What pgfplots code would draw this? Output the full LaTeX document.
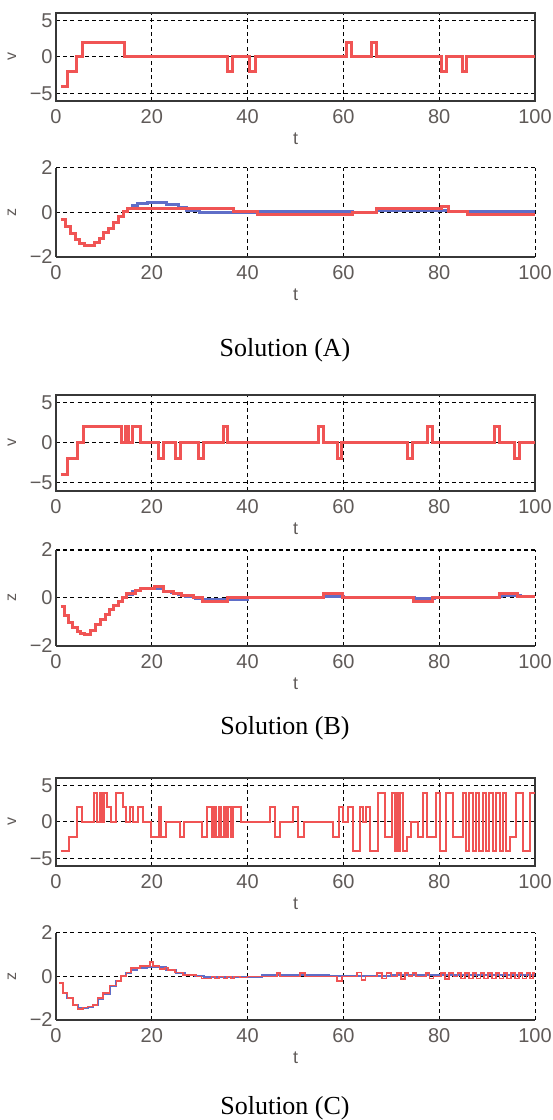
\documentclass[border=0pt]{standalone}
\usepackage{fontspec}
\setmainfont{Liberation Serif}
\newfontfamily\ticksans{Liberation Sans}
\usepackage{pgfplots}
\pgfplotsset{compat=1.18}

\definecolor{tickgray}{RGB}{95,90,88}
\definecolor{framegray}{RGB}{55,55,55}
\definecolor{solred}{RGB}{240,84,84}
\definecolor{solblue}{RGB}{95,110,200}

% v series (control)
\pgfplotstableread{
t v
1 -4
2.3 -2
4.3 0
5.6 2
14.4 0
35.9 -2
36.9 0
40.5 -2
41.6 0
60.6 2
61.6 0
65.9 2
66.9 0
80.5 -2
81.5 0
84.8 -2
85.8 0
100 0
}\vA
\pgfplotstableread{
t v
1 -4
2.3 -2
4.4 0
5.7 2
13.7 0
14.5 2
15.2 0
16.0 2
17.6 0
21.5 -2
22.5 0
25.0 -2
26.0 0
29.8 -2
30.8 0
34.9 2
35.9 0
54.8 2
55.8 0
58.7 -2
59.7 0
73.4 -2
74.4 0
77.6 2
78.6 0
91.6 2
92.6 0
95.7 -2
96.7 0
100 0
}\vB
\pgfplotstableread{
t v
1 -4
2.8 -2
4.3 2
5.4 0
7.9 4
8.6 0
9.1 4
9.7 0
10.1 4
10.6 2
11.4 0
12.5 4
13.9 2
14.6 0
15.4 2
16.1 0
17.1 2
18.2 0
19.9 -2
21.4 2
22.0 -2
23.0 0
25.8 -2
26.8 0
30.5 -2
31.5 2
32.5 -2
33.0 2
33.5 -2
34.0 2
34.5 -2
35.0 2
35.5 -2
36.0 2
36.5 -2
37.0 2
38.6 0
44.6 2
45.7 -2
46.8 0
49.5 2
50.6 -2
51.7 0
57.9 -2
59.0 2
60.0 0
61.0 2
62.1 -4
63.4 2
64.1 0
64.7 2
65.5 -4
67.3 4
68.7 -2
70.1 4
70.8 -4
71.2 4
71.5 -4
71.8 4
72.5 -4
73.3 -2
74.2 0
75.6 -2
76.7 4
77.4 -2
79.4 4
80.1 -4
81.5 4
82.9 -2
85.0 4
85.6 -4
86.3 4
87.0 -4
87.7 4
88.4 -4
89.1 4
89.8 -4
90.5 4
91.2 -4
91.9 4
92.6 -4
93.3 4
94.0 -4
94.7 -2
96.1 4
97.5 -4
98.9 4
100 4
}\vC

% z series (state): red = obtained, blue = reference
\pgfplotstableread{
t z
1 -0.31
2 -0.65
3 -0.95
4 -1.2
5 -1.4
6 -1.5
8 -1.35
9 -1.15
10 -0.92
11 -0.7
12 -0.45
13 -0.2
14 0.05
15 0.2
37 0.04
42 -0.08
62 0.0
67 0.17
80.5 0.28
82 0.05
86 -0.07
100 -0.07
}\zAred
\pgfplotstableread{
t z
1 -0.31
2 -0.65
3 -0.95
4 -1.2
5 -1.4
6 -1.5
8 -1.35
9 -1.15
10 -0.92
11 -0.7
12 -0.45
13 -0.2
14 0.05
15 0.2
16 0.32
17 0.4
19 0.47
21 0.43
23 0.35
25.5 0.22
27.2 0.08
30 -0.02
40 0.0
42 0.03
62 0.0
67 0.09
82 0.05
86 0.03
100 0.03
}\zAblue
\pgfplotstableread{
t z
1 -0.34
1.8 -0.74
2.6 -1.03
3.5 -1.24
4.4 -1.39
5.2 -1.5
6 -1.53
7.3 -1.34
8.3 -1.1
9.3 -0.89
10.3 -0.67
11.2 -0.49
12.1 -0.31
13 -0.14
13.9 0.04
14.8 0.19
16.5 0.33
17.6 0.4
20.6 0.47
22.4 0.26
24.6 0.19
26.1 0.09
28.7 0.0
30.5 -0.14
35.7 0.03
55.9 0.2
59.9 0.03
74.6 -0.14
78.7 0.03
92.6 0.2
96.3 0.08
100 0.08
}\zBred
\pgfplotstableread{
t z
1 -0.34
1.8 -0.74
2.6 -1.03
3.5 -1.24
4.4 -1.39
5.2 -1.5
6 -1.53
7.3 -1.34
8.3 -1.1
9.3 -0.89
10.3 -0.67
11.2 -0.49
12.1 -0.31
13 -0.14
13.9 0.04
14.8 0.15
16 0.28
17.6 0.37
19.5 0.4
22.4 0.3
24 0.22
25.5 0.13
27 0.05
29 -0.03
31 -0.06
36 -0.06
40 0.0
42 0.02
56 0.07
60 0.03
75 -0.02
79 0.03
93 0.1
97 0.06
100 0.06
}\zBblue
\pgfplotstableread{
t z
0.7 -0.31
1.4 -0.75
2.4 -1.0
3.5 -1.3
4.5 -1.5
5.6 -1.42
6.6 -1.38
7.7 -1.3
8.7 -1.0
9.8 -0.75
11.2 -0.41
12.6 -0.2
13.6 0.03
14.7 0.19
15.7 0.38
17.5 0.47
19.6 0.66
20.3 0.47
21.6 0.35
22.7 0.42
23.4 0.3
24.8 0.19
26.5 0.06
29.3 0.0
30.4 -0.1
31.8 -0.1
32.5 0.0
33.2 -0.1
34 0.0
35 -0.1
35.7 0.0
36.5 -0.1
37.2 0.0
38.4 -0.05
40 0.0
46.1 0.15
46.8 0.0
51 0.15
52 0.0
58.7 -0.2
59.7 0.0
62.8 0.18
63.8 -0.15
64.6 0.0
67 0.15
68 -0.1
69 0.15
70 0.0
71.2 0.15
72 -0.12
72.8 0.15
73.6 0.02
74.4 0.15
75.2 0.0
77.2 0.15
78 -0.1
78.8 0.0
80.4 0.15
81.2 -0.12
82 0.15
83 0.0
83.8 0.15
84.6 -0.1
85.4 0.15
86.2 -0.1
87 0.15
87.8 -0.1
88.6 0.15
89.4 -0.1
90.2 0.15
91 -0.1
91.8 0.15
92.6 -0.1
93.4 0.15
94.2 -0.1
95 0.15
95.8 -0.1
96.6 0.15
97.4 -0.1
98.2 0.15
99 -0.1
99.6 0.15
100 0.15
}\zCred
\pgfplotstableread{
t z
0.7 -0.31
1.4 -0.75
2.4 -1.0
3.5 -1.3
4.5 -1.45
5.6 -1.45
6.6 -1.4
7.7 -1.3
8.7 -1.05
9.8 -0.8
11.2 -0.45
12.6 -0.22
13.6 0.0
14.7 0.15
15.7 0.3
17 0.4
19 0.45
21 0.42
23 0.3
25 0.18
27 0.06
29 0.0
31 -0.03
38 -0.02
43 0.08
57 0.02
60 0.0
70 0.05
100 0.05
}\zCblue

\pgfplotsset{
  panel/.style={
    scale only axis, width=239.5pt,
    xmin=0, xmax=100,
    xtick={0,20,40,60,80,100},
    xticklabels={0,20,40,60,80,100},
    grid=major,
    major grid style={black, line width=0.5pt, dash pattern=on 2pt off 1.6pt},
    major tick length=0pt,
    axis line style={framegray, line width=0.8pt},
    tick label style={font=\ticksans\fontsize{10}{10}\selectfont, text=tickgray},
    yticklabel style={inner xsep=1.5pt},
    xticklabel style={inner ysep=4.3pt},
    xlabel={t},
    every axis x label/.style={font=\ticksans\fontsize{9}{9}\selectfont, text=tickgray,
      at={([yshift=-19pt]axis description cs:0.5,0)}, anchor=center},
    every axis y label/.style={font=\ticksans\fontsize{8}{8}\selectfont, text=tickgray,
      at={([xshift=-22pt]axis description cs:0,0.5)}, anchor=center, rotate=90},
    const plot, no marks,
  },
  vpanel/.style={panel, ymin=-6, ymax=6, ytick={-5,0,5},
    yticklabels={−5,0,5}, ylabel={v}},
  zpanel/.style={panel, ymin=-2, ymax=2, ytick={-2,0,2},
    yticklabels={−2,0,2}, ylabel={z},
    axis x line*=bottom, axis y line*=left,
    axis line style={-, framegray, line width=0.8pt}},
}

\begin{document}
\begin{tikzpicture}
\useasboundingbox (0,0) rectangle (276pt,560pt);

% Solution (A)
\begin{axis}[vpanel, at={(28pt,509.5pt)}, anchor=south west, height=44pt]
\addplot[solred, line width=1.5pt] table[x=t,y=v] {\vA};
\end{axis}
\begin{axis}[zpanel, at={(28pt,431.5pt)}, anchor=south west, height=44.5pt]
\addplot[solblue, line width=1.5pt] table[x=t,y=z] {\zAblue};
\addplot[solred, line width=1.5pt] table[x=t,y=z] {\zAred};
\end{axis}
\node[font=\fontsize{13}{13}\selectfont] at (142.5pt,385pt) {Solution (A)};

% Solution (B)
\begin{axis}[vpanel, at={(28pt,314.5pt)}, anchor=south west, height=48pt]
\addplot[solred, line width=1.5pt] table[x=t,y=v] {\vB};
\end{axis}
\begin{axis}[zpanel, at={(28pt,237pt)}, anchor=south west, height=48pt]
\addplot[solblue, line width=1.2pt] table[x=t,y=z] {\zBblue};
\addplot[solred, line width=1.5pt] table[x=t,y=z] {\zBred};
\end{axis}
\node[font=\fontsize{13}{13}\selectfont] at (142.5pt,196pt) {Solution (B)};

% Solution (C)
\begin{axis}[vpanel, at={(28pt,127pt)}, anchor=south west, height=44pt]
\addplot[solred, line width=1pt] table[x=t,y=v] {\vC};
\end{axis}
\begin{axis}[zpanel, at={(28pt,50pt)}, anchor=south west, height=43.5pt]
\addplot[solblue, line width=1pt] table[x=t,y=z] {\zCblue};
\addplot[solred, line width=0.8pt] table[x=t,y=z] {\zCred};
\end{axis}
\node[font=\fontsize{13}{13}\selectfont] at (142.5pt,6pt) {Solution (C)};
\end{tikzpicture}
\end{document}
